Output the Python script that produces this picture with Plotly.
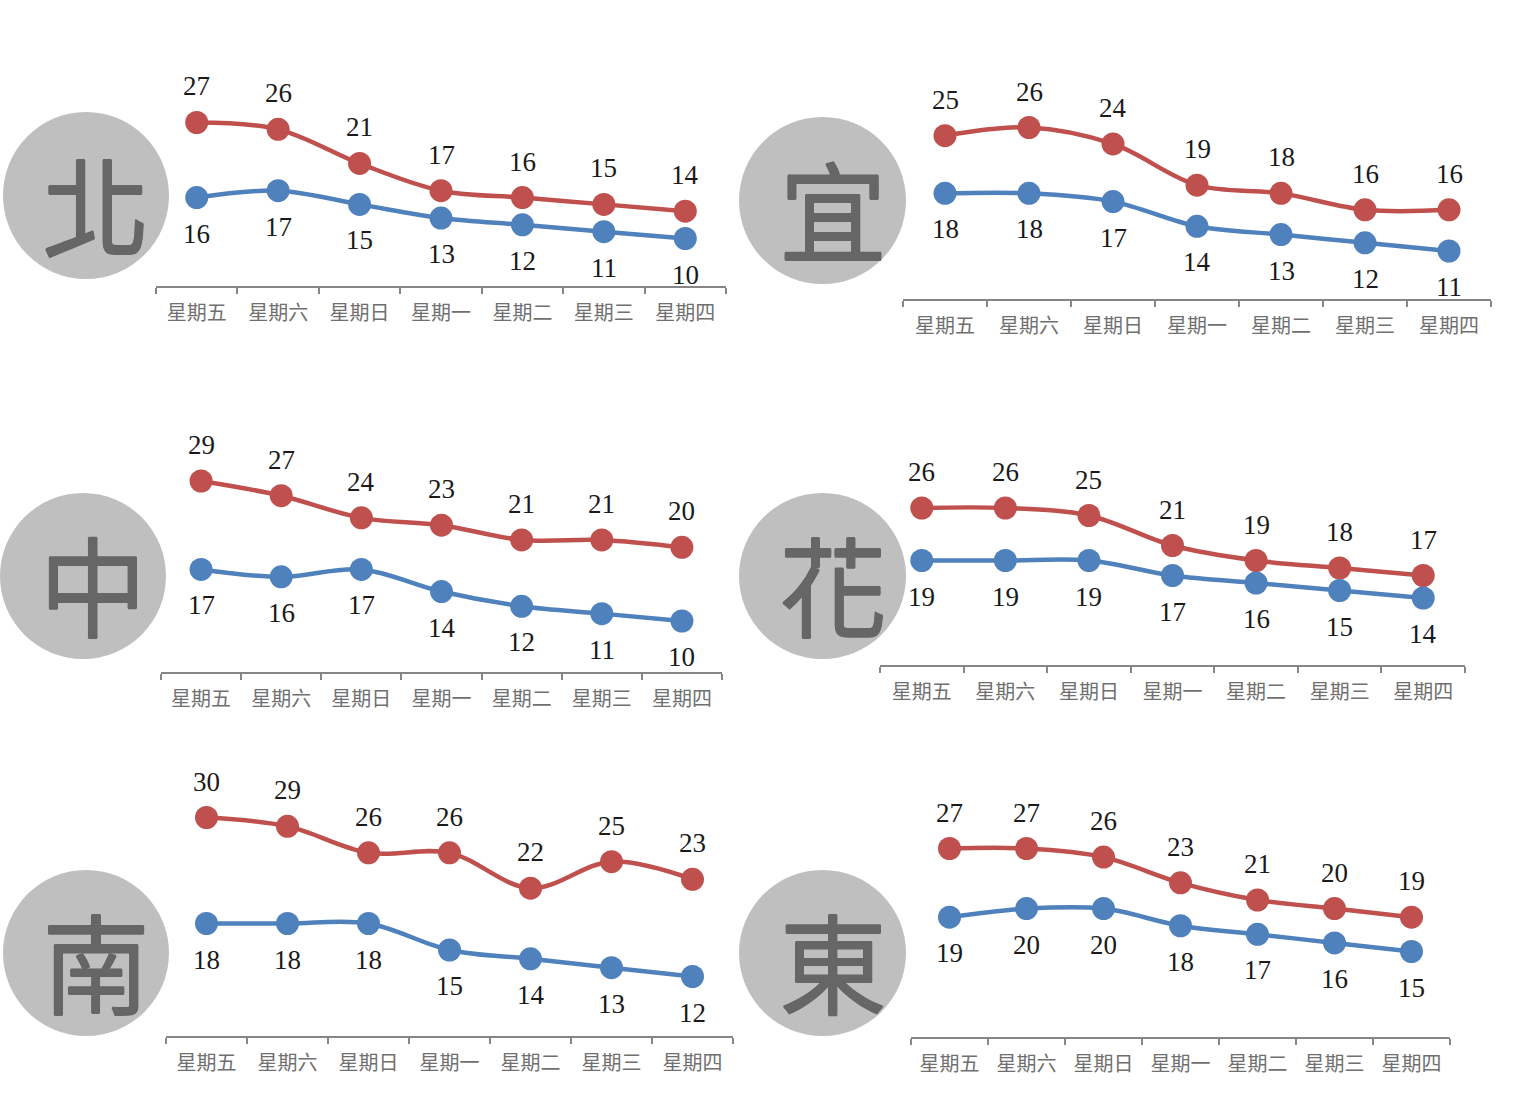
"""Weekly high/low temperature panels for six regions."""

import plotly.graph_objects as go
from plotly.subplots import make_subplots

WIDTH = 1522
HEIGHT = 1106

days = ["星期五", "星期六", "星期日", "星期一", "星期二", "星期三", "星期四"]

regions = ["北", "宜", "中", "花", "南", "東"]

north_high = [27, 26, 21, 17, 16, 15, 14]
north_low = [16, 17, 15, 13, 12, 11, 10]
yilan_high = [25, 26, 24, 19, 18, 16, 16]
yilan_low = [18, 18, 17, 14, 13, 12, 11]
central_high = [29, 27, 24, 23, 21, 21, 20]
central_low = [17, 16, 17, 14, 12, 11, 10]
hualien_high = [26, 26, 25, 21, 19, 18, 17]
hualien_low = [19, 19, 19, 17, 16, 15, 14]
south_high = [30, 29, 26, 26, 22, 25, 23]
south_low = [18, 18, 18, 15, 14, 13, 12]
east_high = [27, 27, 26, 23, 21, 20, 19]
east_low = [19, 20, 20, 18, 17, 16, 15]

highs = [north_high, yilan_high, central_high, hualien_high, south_high, east_high]
lows = [north_low, yilan_low, central_low, hualien_low, south_low, east_low]

# where each panel sits, in page pixels: axis left, axis right, axis line,
# then two (pixel, value) pairs that fix the vertical scale
panels = [
    (156, 726, 286, (122.5, 27), (238.5, 10)),
    (903, 1491, 299, (127.5, 26), (251, 11)),
    (161, 722, 672, (481, 29), (621, 10)),
    (880, 1465, 665, (508, 26), (598, 14)),
    (166, 733, 1036, (817.5, 30), (976.5, 12)),
    (911, 1450, 1037, (848.5, 27), (951.5, 15)),
]

# badge boxes: left, top, right, bottom
badges = [
    (3, 112, 169, 279),
    (739, 117, 906, 284),
    (0, 493, 166, 659),
    (739, 493, 906, 659),
    (3, 870, 169, 1036),
    (739, 870, 906, 1036),
]

RED = "#C0504D"
BLUE = "#4F81BD"
AXIS = "#868686"
GLYPH = "#666666"
NUM_FONT = "Liberation Serif"
CJK_FONT = "Noto Sans CJK TC"


def px_x(x):
    return x / WIDTH


def px_y(y):
    return 1 - y / HEIGHT


def add_series(fig, values, name, color, shift, row, col):
    fig.add_trace(
        go.Scatter(
            x=days,
            y=values,
            mode="lines+markers",
            name=name,
            line={"color": color, "width": 4.5, "shape": "spline", "smoothing": 1.0},
            marker={"color": color, "size": 23},
            cliponaxis=False,
        ),
        row=row,
        col=col,
    )
    for day, value in zip(days, values):
        fig.add_annotation(
            x=day,
            y=value,
            text=str(value),
            yshift=shift,
            showarrow=False,
            font={"family": NUM_FONT, "size": 27, "color": "#1a1a1a"},
            row=row,
            col=col,
        )


fig = make_subplots(rows=3, cols=2)

for i, (x0, x1, base, (py_a, va), (py_b, vb)) in enumerate(panels):
    row, col = i // 2 + 1, i % 2 + 1
    scale = (py_b - py_a) / (va - vb)
    top = base - 250
    add_series(fig, highs[i], "高溫", RED, 36, row, col)
    add_series(fig, lows[i], "低溫", BLUE, -36, row, col)
    fig.update_xaxes(
        domain=[px_x(x0), px_x(x1)],
        type="category",
        categoryorder="array",
        categoryarray=days,
        range=[-0.5, 6.5],
        tickson="boundaries",
        ticks="outside",
        ticklen=6,
        tickwidth=2,
        tickcolor=AXIS,
        showline=True,
        linecolor=AXIS,
        linewidth=2,
        showgrid=False,
        zeroline=False,
        ticklabelstandoff=8,
        tickfont={"family": CJK_FONT, "size": 20, "color": "#707070"},
        row=row,
        col=col,
    )
    fig.update_yaxes(
        domain=[px_y(base), px_y(top)],
        range=[vb - (base - py_b) / scale, vb + (py_b - top) / scale],
        visible=False,
        row=row,
        col=col,
    )

    left, upper, right, lower = badges[i]
    fig.add_shape(
        type="circle",
        xref="paper",
        yref="paper",
        x0=px_x(left),
        x1=px_x(right),
        y0=px_y(lower),
        y1=px_y(upper),
        fillcolor="#BFBFBF",
        line={"width": 0},
        layer="below",
    )
    fig.add_annotation(
        text=regions[i],
        xref="paper",
        yref="paper",
        x=px_x((left + right) / 2 + 10),
        y=px_y((upper + lower) / 2 + 6),
        xanchor="center",
        yanchor="middle",
        showarrow=False,
        font={
            "family": CJK_FONT,
            "size": 108,
            "color": GLYPH,
            "shadow": f"0.6px 0 0 {GLYPH}, -0.6px 0 0 {GLYPH}, 0 0.6px 0 {GLYPH}, 0 -0.6px 0 {GLYPH}",
        },
    )

fig.update_layout(
    width=WIDTH,
    height=HEIGHT,
    margin={"l": 0, "r": 0, "t": 0, "b": 0},
    showlegend=False,
    paper_bgcolor="white",
    plot_bgcolor="rgba(0,0,0,0)",
)

fig.write_html(
    "out.html",
    config={"displayModeBar": False},
    post_script="document.body.style.margin = '0';",
)
